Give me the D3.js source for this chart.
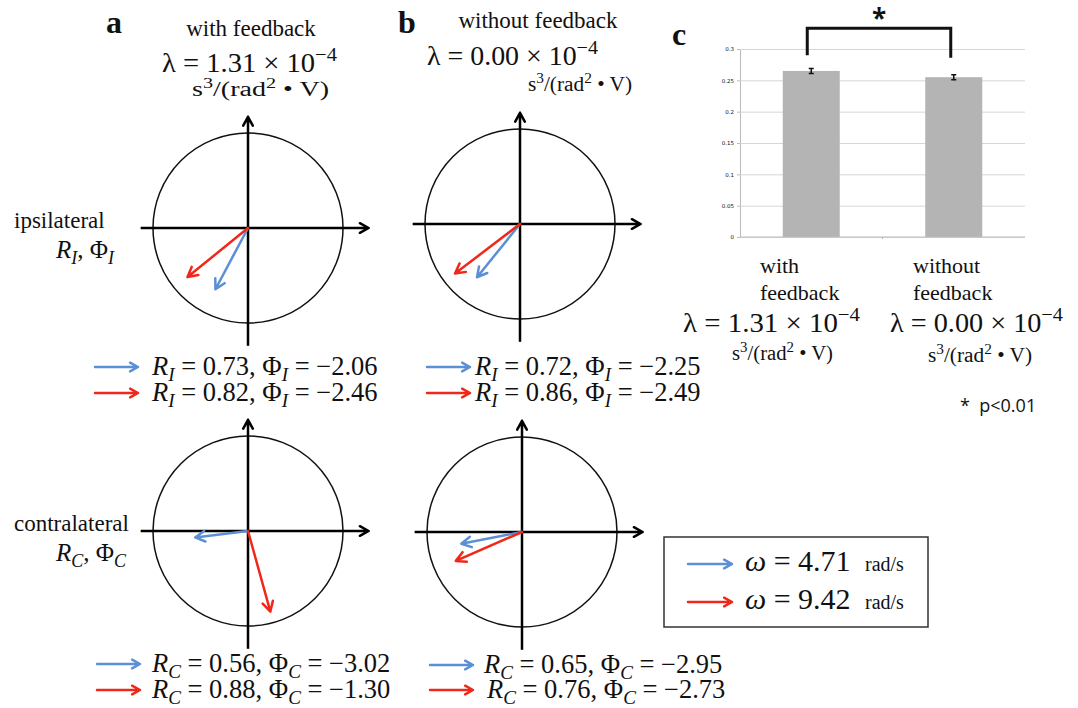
<!DOCTYPE html>
<html>
<head>
<meta charset="utf-8">
<script src="https://cdn.jsdelivr.net/npm/d3@7"></script>
<style>
  body { margin: 0; background: #fff; }
  text, tspan { font-family: "Liberation Serif", "Times New Roman", serif; fill: #111; }
  text.sans { font-family: "Open Sans", "DejaVu Sans", sans-serif; }
</style>
</head>
<body>
<div id="chart"></div>
<script>
// conditions and phasor values
var conditions = ["with feedback", "without feedback"];
var panelLetters = ["a", "b"];
var lambdas = ["1.31", "0.00"];
var omegas = ["4.71", "9.42"];
var rowNames = ["ipsilateral", "contralateral"];
var rowSubs = ["I", "C"];

// [row][column][omega]
var magnitudes = [
  [[0.73, 0.82], [0.72, 0.86]],
  [[0.56, 0.88], [0.65, 0.76]]
];
var phases = [
  [[-2.06, -2.46], [-2.25, -2.49]],
  [[-3.02, -1.30], [-2.95, -2.73]]
];

// bar chart (panel c)
var barLabels = [["with", "feedback"], ["without", "feedback"]];
var barValues = [0.265, 0.255];
var barErrors = [0.004, 0.004];
var yTicks = [0, 0.05, 0.1, 0.15, 0.2, 0.25, 0.3];

var colors = ["#5b90d6", "#f0281a"];

var svgWidth = 1078, svgHeight = 708;
var svg = d3.select("#chart").append("svg")
    .attr("width", svgWidth)
    .attr("height", svgHeight);

// text with italic / sub / superscript pieces, optionally fitted to a width
function mathText(parent, x, y, size, parts, width) {
  var t = parent.append("text").attr("x", x).attr("y", y).attr("font-size", size);
  var shift = 0;
  parts.forEach(function(p) {
    var kind = p[1] || "";
    var target = 0;
    if (kind.indexOf("_") >= 0) target = size * 0.22;
    if (kind.indexOf("^") >= 0) target = -size * 0.4;
    var s = t.append("tspan").text(p[0]).attr("dy", target - shift);
    shift = target;
    if (target !== 0) s.attr("font-size", size * 0.72);
    if (kind.indexOf("i") >= 0) s.attr("font-style", "italic");
  });
  if (width) t.attr("textLength", width).attr("lengthAdjust", "spacingAndGlyphs");
  return t;
}

// arrow with open V head
function arrow(parent, x1, y1, x2, y2, color, width, head) {
  var a = Math.atan2(y2 - y1, x2 - x1);
  var spread = 0.5;
  var p = d3.path();
  p.moveTo(x1, y1); p.lineTo(x2, y2);
  p.moveTo(x2 - head * Math.cos(a - spread), y2 - head * Math.sin(a - spread));
  p.lineTo(x2, y2);
  p.lineTo(x2 - head * Math.cos(a + spread), y2 - head * Math.sin(a + spread));
  parent.append("path")
      .attr("d", p.toString())
      .attr("fill", "none")
      .attr("stroke", color)
      .attr("stroke-width", width)
      .attr("stroke-linecap", "round")
      .attr("stroke-linejoin", "round");
}

function lambdaParts(v) {
  return [["λ = " + v + " × 10"], ["−4", "^"]];
}
function unitParts() {
  return [["s"], ["3", "^"], ["/(rad"], ["2", "^"], [" • "], ["V)"]];
}

// ---------- panels a and b ----------
var radius = 95;
var centers = [
  [[248, 228], [520, 224]],
  [[248, 531], [522, 532]]
];
var titlePos = [
  {letter: [106, 33], title: [251, 36], lam: [162, 72, 175], unit: [192, 96, 137]},
  {letter: [398, 33], title: [538, 28], lam: [427, 65, 171], unit: [528, 91, 104]}
];
var captionPos = [
  [{ax: 95, tx: 152, y: [375, 401]}, {ax: 427, tx: 475, y: [375, 401]}],
  [{ax: 97, tx: 152, y: [672, 698]}, {ax: 430, tx: 484, y: [673, 698]}]
];

conditions.forEach(function(cond, c) {
  var tp = titlePos[c];
  svg.append("text").attr("x", tp.letter[0]).attr("y", tp.letter[1])
      .attr("font-size", 32).attr("font-weight", "bold").text(panelLetters[c]);
  svg.append("text").attr("x", tp.title[0]).attr("y", tp.title[1])
      .attr("font-size", 23).attr("text-anchor", "middle").text(cond);
  mathText(svg, tp.lam[0], tp.lam[1], 27, lambdaParts(lambdas[c]), tp.lam[2]);
  mathText(svg, tp.unit[0], tp.unit[1], 20, unitParts(), tp.unit[2]);
});

rowNames.forEach(function(name, r) {
  var cy0 = centers[r][0][1];
  svg.append("text").attr("x", 14).attr("y", cy0 + 0)
      .attr("font-size", 23).text(name);
  mathText(svg, 56, cy0 + 30, 25, [["R", "i"], [rowSubs[r], "i_"], [", Φ"], [rowSubs[r], "i_"]]);

  conditions.forEach(function(cond, c) {
    var cx = centers[r][c][0], cy = centers[r][c][1];
    var x = d3.scaleLinear().domain([-1, 1]).range([cx - radius, cx + radius]);
    var y = d3.scaleLinear().domain([-1, 1]).range([cy + radius, cy - radius]);
    var g = svg.append("g");

    g.append("circle")
        .attr("cx", x(0)).attr("cy", y(0))
        .attr("r", x(1) - x(0))
        .attr("fill", "none").attr("stroke", "#111").attr("stroke-width", 1.5);
    // axes
    g.append("line").attr("x1", x(0)).attr("x2", x(0))
        .attr("y1", y(-1.24)).attr("y2", y(1.1))
        .attr("stroke", "#000").attr("stroke-width", 2.5);
    arrow(g, x(0), y(1.1), x(0), y(1.17), "#000", 2.5, 10);
    g.append("line").attr("x1", x(-1.13)).attr("x2", x(1.2))
        .attr("y1", y(0)).attr("y2", y(0))
        .attr("stroke", "#000").attr("stroke-width", 2.5);
    arrow(g, x(1.2), y(0), x(1.27), y(0), "#000", 2.5, 10);

    // phasor vectors
    omegas.forEach(function(w, k) {
      var R = magnitudes[r][c][k], ph = phases[r][c][k];
      arrow(g, x(0), y(0), x(R * Math.cos(ph)), y(R * Math.sin(ph)), colors[k], 2.5, 11);
    });

    // captions
    var cp = captionPos[r][c];
    var f = d3.format(".2f");
    omegas.forEach(function(w, k) {
      var ty = cp.y[k];
      arrow(svg, cp.ax, ty - 8, cp.ax + 43, ty - 8, colors[k], 2.5, 9);
      mathText(svg, cp.tx + (r === 1 && c === 1 && k === 1 ? 3 : 0), ty, 26.5, [
        ["R", "i"], [rowSubs[r], "i_"],
        [" = " + f(magnitudes[r][c][k]) + ", Φ"], [rowSubs[r], "i_"],
        [" = " + f(phases[r][c][k])]
      ]);
    });
  });
});

// legend
var legend = svg.append("g");
legend.append("rect").attr("x", 664).attr("y", 537).attr("width", 264).attr("height", 90)
    .attr("fill", "none").attr("stroke", "#333").attr("stroke-width", 1.5);
omegas.forEach(function(w, k) {
  var ly = 571 + k * 38;
  arrow(legend, 688, ly - 7, 732, ly - 7, colors[k], 2.5, 9);
  mathText(legend, 745, ly, 30, [["ω", "i"], [" = " + w]]);
  legend.append("text").attr("x", 865).attr("y", ly).attr("font-size", 20).text("rad/s");
});

// ---------- panel c: bar chart ----------
var plot = {left: 740, right: 1025, top: 49, bottom: 237};
var xBand = d3.scaleBand().domain(d3.range(barValues.length))
    .range([plot.left, plot.right]).paddingInner(0.6).paddingOuter(0.3);
var yBar = d3.scaleLinear().domain([0, 0.3]).range([plot.bottom, plot.top]);

svg.append("text").attr("x", 672).attr("y", 45)
    .attr("font-size", 32).attr("font-weight", "bold").text("c");

var yAxis = d3.axisLeft(yBar).tickValues(yTicks)
    .tickSize(-(plot.right - plot.left)).tickPadding(6)
    .tickFormat(d3.format("~g"));
var ga = svg.append("g").attr("transform", "translate(" + plot.left + ",0)").call(yAxis);
ga.select(".domain").attr("stroke", "#bbb");
ga.selectAll(".tick line").attr("stroke", "#d6d6d6").attr("stroke-width", 1);
ga.selectAll(".tick text").attr("font-size", 5.5).attr("fill", "#444")
    .style("font-family", "'DejaVu Sans', sans-serif");
ga.selectAll(".tick").append("line").attr("x1", -3).attr("x2", 0).attr("stroke", "#bbb");

svg.selectAll("rect.bar").data(barValues).enter().append("rect")
    .attr("class", "bar")
    .attr("x", function(d, i) { return xBand(i); })
    .attr("width", xBand.bandwidth())
    .attr("y", function(d) { return yBar(d); })
    .attr("height", function(d) { return yBar(0) - yBar(d); })
    .attr("fill", "#b4b4b4");

svg.append("line").attr("x1", plot.left).attr("x2", plot.right)
    .attr("y1", yBar(0)).attr("y2", yBar(0)).attr("stroke", "#bbb");
svg.append("line").attr("x1", (plot.left + plot.right) / 2).attr("x2", (plot.left + plot.right) / 2)
    .attr("y1", yBar(0)).attr("y2", yBar(0) + 2).attr("stroke", "#bbb");

// error bars
barValues.forEach(function(v, i) {
  var cx = xBand(i) + xBand.bandwidth() / 2;
  var e = barErrors[i];
  var p = d3.path();
  p.moveTo(cx, yBar(v + e)); p.lineTo(cx, yBar(v - e));
  p.moveTo(cx - 2.5, yBar(v + e)); p.lineTo(cx + 2.5, yBar(v + e));
  p.moveTo(cx - 2.5, yBar(v - e)); p.lineTo(cx + 2.5, yBar(v - e));
  svg.append("path").attr("d", p.toString()).attr("stroke", "#111")
      .attr("stroke-width", 1.5).attr("fill", "none");
});

// significance bracket
var bx1 = xBand(0) + xBand.bandwidth() / 2 - 4;
var bx2 = xBand(1) + xBand.bandwidth() / 2 - 3;
svg.append("path")
    .attr("d", "M" + bx1 + "," + yBar(0.29) + "V" + yBar(0.333) + "H" + bx2 + "V" + yBar(0.286))
    .attr("fill", "none").attr("stroke", "#111").attr("stroke-width", 3);
svg.append("text").attr("class", "sans").attr("x", (bx1 + bx2) / 2).attr("y", 28)
    .attr("text-anchor", "middle").attr("font-size", 26).attr("font-weight", "bold").text("*");

// category labels under bars
var labelX = [760, 913];
barLabels.forEach(function(lines, i) {
  lines.forEach(function(l, j) {
    svg.append("text").attr("x", labelX[i]).attr("y", 273 + j * 27)
        .attr("font-size", 22).text(l);
  });
});
mathText(svg, 683, 332, 27, lambdaParts(lambdas[0]), 177);
mathText(svg, 890, 332, 27, lambdaParts(lambdas[1]), 173);
mathText(svg, 732, 360, 20, unitParts(), 101);
mathText(svg, 928, 362, 20, unitParts(), 104);

svg.append("text").attr("class", "sans").attr("x", 960).attr("y", 412)
    .attr("font-size", 18).attr("xml:space", "preserve").text("*  p<0.01");
</script>
</body>
</html>
